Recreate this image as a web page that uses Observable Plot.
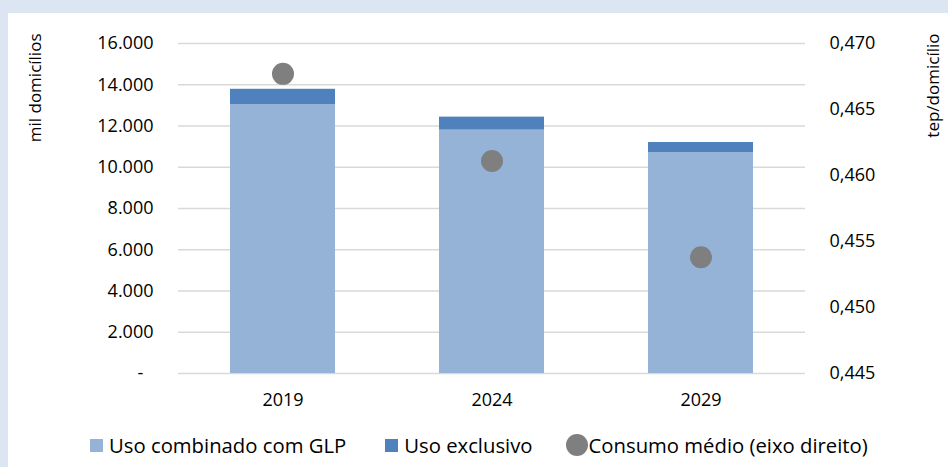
<!DOCTYPE html>
<html><head><meta charset="utf-8">
<script src="https://cdn.jsdelivr.net/npm/d3@7"></script>
<script src="https://cdn.jsdelivr.net/npm/@observablehq/plot@0.6"></script>
<style>
html,body{margin:0;padding:0;background:#dce6f2;width:948px;height:467px;overflow:hidden;font-family:"Open Sans",sans-serif;}
#panel{position:absolute;left:8px;top:13px;width:940px;height:454px;background:#fff;}
#chart{position:absolute;left:0;top:0;}
#legend{position:absolute;left:82px;top:418px;display:flex;align-items:center;font-size:20.3px;line-height:28px;color:#000;white-space:nowrap;}
.sw{width:13px;height:13px;display:inline-block;margin-right:6px;}
.dotsw{width:22px;height:22px;border-radius:50%;display:inline-block;margin-right:1px;background:#7f7f7f;}
.item{display:flex;align-items:center;}
</style>
</head><body>
<div id="panel"><div id="chart"></div>
<div id="legend">
<span class="item"><span class="sw" style="background:#95b3d7"></span>Uso combinado com GLP</span>
<span class="item" style="margin-left:39px"><span class="sw" style="background:#4f81bd"></span>Uso exclusivo</span>
<span class="item" style="margin-left:33px"><span class="dotsw"></span>Consumo médio (eixo direito)</span>
</div></div>
<script>
const years = ["2019", "2024", "2029"];
const combinado = [13040, 11800, 10710];
const exclusivo = [740, 630, 490];
const consumo = [0.4677, 0.4611, 0.4538];
const leftTicks = [0, 2000, 4000, 6000, 8000, 10000, 12000, 14000, 16000];
const rightTicks = [0.445, 0.450, 0.455, 0.460, 0.465, 0.470];
const seriesNames = ["Uso combinado com GLP", "Uso exclusivo"];

const rMin = 0.445, rMax = 0.470, lMax = 16000;
const toLeft = v => (v - rMin) / (rMax - rMin) * lMax;
const fromLeft = v => rMin + v / lMax * (rMax - rMin);

const rows = [];
years.forEach((y, i) => {
  rows.push({year: y, series: seriesNames[0], value: combinado[i]});
  rows.push({year: y, series: seriesNames[1], value: exclusivo[i]});
});
const dots = years.map((y, i) => ({year: y, v: consumo[i]}));

const fmtL = d => d === 0 ? "-\u2007" : d3.format(",")(d).replace(/,/g, ".");
const fmtR = d => d3.format(".3f")(d).replace(".", ",");

const chart = Plot.plot({
  width: 940,
  height: 405,
  marginLeft: 170,
  marginRight: 143,
  marginTop: 30,
  marginBottom: 45,
  style: {fontFamily: "Open Sans, sans-serif", fontSize: "18px", color: "#000", background: "transparent"},
  x: {domain: years, paddingInner: 0.5, paddingOuter: 0.25},
  y: {domain: [0, lMax]},
  color: {domain: seriesNames, range: ["#95b3d7", "#4f81bd"]},
  marks: [
    Plot.ruleY(leftTicks, {stroke: "#d9d9d9", strokeWidth: 1.4}),
    Plot.barY(rows, {x: "year", y: "value", fill: "series"}),
    Plot.dot(dots, {x: "year", y: d => toLeft(d.v), r: 11, fill: "#7f7f7f"}),
    Plot.axisY(leftTicks, {anchor: "left", tickSize: 0, tickPadding: 25, tickFormat: fmtL, label: null, fontSize: 18}),
    Plot.axisY(rightTicks.map(toLeft), {anchor: "right", tickSize: 0, tickPadding: 24, tickFormat: d => fmtR(fromLeft(d)), label: null, fontSize: 18}),
    Plot.axisX({tickSize: 0, tickPadding: 20, label: null, fontSize: 18}),
    Plot.text(["mil domicílios"], {text: d => d, frameAnchor: "top-left", dx: -143, dy: -10, rotate: -90, textAnchor: "end", lineAnchor: "middle", fontSize: 17}),
    Plot.text(["tep/domicílio"], {text: d => d, frameAnchor: "top-right", dx: 128, dy: -10, rotate: -90, textAnchor: "end", lineAnchor: "middle", fontSize: 17})
  ]
});
document.getElementById("chart").appendChild(chart);
</script>
</body></html>
